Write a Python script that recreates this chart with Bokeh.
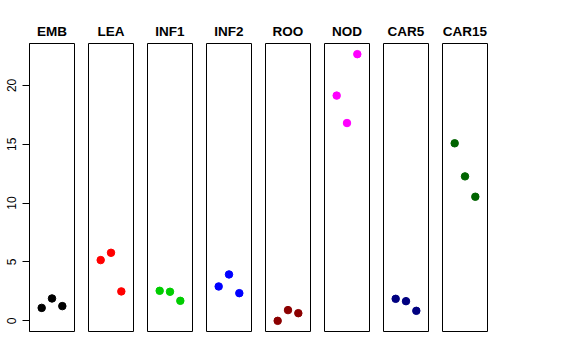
from bokeh.plotting import figure
from bokeh.layouts import row
from bokeh.models import Range1d, FixedTicker, LinearAxis
from bokeh.embed import file_html
from bokeh.resources import INLINE

categories = ["EMB", "LEA", "INF1", "INF2", "ROO", "NOD", "CAR5", "CAR15"]
replicate = [1, 2, 3]
emb = [1.10, 1.90, 1.25]
lea = [5.16, 5.78, 2.50]
inf1 = [2.55, 2.47, 1.70]
inf2 = [2.92, 3.94, 2.35]
roo = [0.00, 0.91, 0.65]
nod = [19.13, 16.80, 22.65]
car5 = [1.87, 1.67, 0.85]
car15 = [15.08, 12.27, 10.54]
series = [emb, lea, inf1, inf2, roo, nod, car5, car15]
colors = ["black", "red", "#00CD00", "blue", "#8B0000", "magenta", "#000080", "#006400"]
y_ticks = [0, 5, 10, 15, 20]

all_vals = [v for s in series for v in s]
lo, hi = min(all_vals), max(all_vals)
pad = 0.04 * (hi - lo)
y0, y1 = lo - pad, hi + pad

FONT = "Liberation Sans"
figs = []
for i, (cat, vals, col) in enumerate(zip(categories, series, colors)):
    first = i == 0
    p = figure(
        output_backend="svg", toolbar_location=None,
        frame_width=45, frame_height=288,
        x_range=Range1d(-0.18, 4.18), y_range=Range1d(y0, y1),
        x_axis_location=None, y_axis_location=None,
        min_border_left=29 if first else 7, min_border_right=7,
        min_border_top=43, min_border_bottom=21,
        title=cat,
    )
    if first:
        ax = LinearAxis(ticker=FixedTicker(ticks=y_ticks))
        ax.major_tick_out = 7
        ax.major_tick_in = 0
        ax.minor_tick_out = 0
        ax.minor_tick_in = 0
        ax.major_label_orientation = "vertical"
        ax.major_label_text_font = FONT
        ax.major_label_text_font_size = "12px"
        ax.major_label_text_color = "black"
        ax.major_label_standoff = 6
        ax.axis_line_color = "black"
        ax.major_tick_line_color = "black"
        p.add_layout(ax, "left")
    p.xgrid.visible = False
    p.ygrid.visible = False
    p.outline_line_color = "black"
    p.outline_line_width = 1
    p.background_fill_color = "white"
    p.border_fill_color = "white"
    p.title.align = "center"
    p.title.text_font = FONT
    p.title.text_font_size = "13.5px"
    p.title.text_font_style = "bold"
    p.title.text_color = "black"
    p.scatter(replicate, vals, size=7.5, color=col, line_color=col)
    figs.append(p)

layout = row(*figs)
open("out.html", "w").write(file_html(layout, INLINE))
